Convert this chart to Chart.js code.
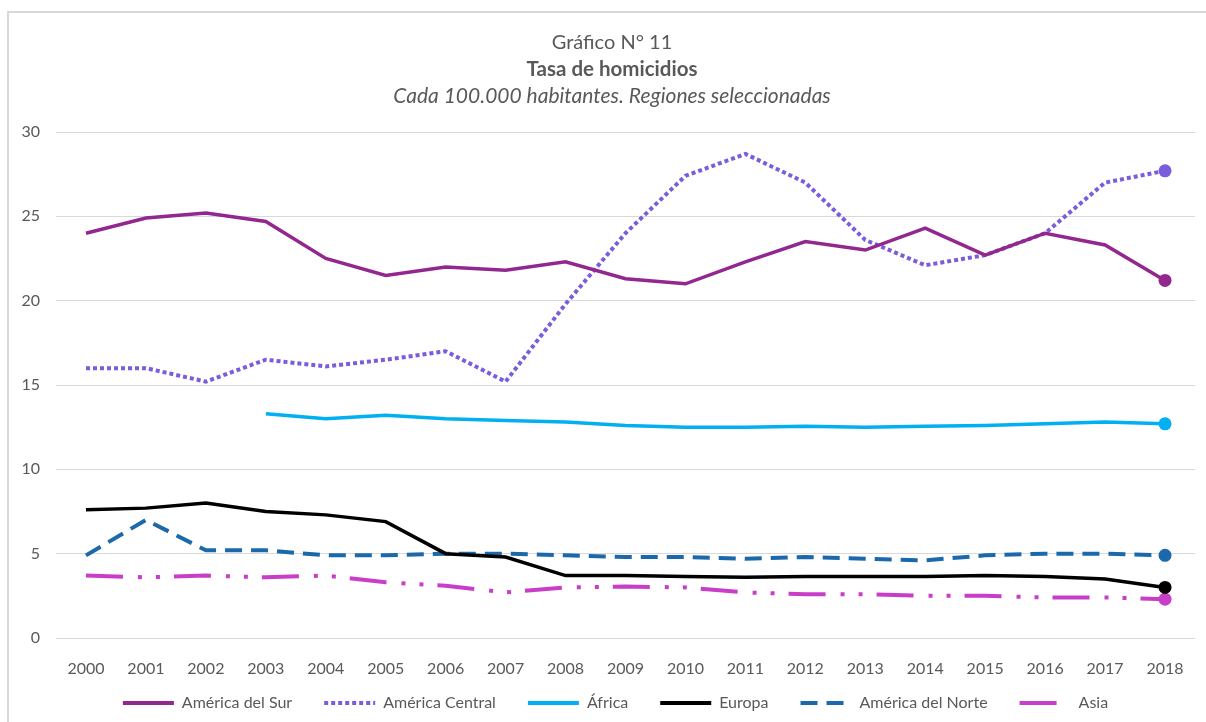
<!DOCTYPE html>
<html>
<head>
<meta charset="utf-8">
<script src="https://cdn.jsdelivr.net/npm/chart.js@4/dist/chart.umd.min.js"></script>
<style>
  html, body { margin: 0; padding: 0; background: #fff; }
  #wrap { width: 1206px; height: 722px; position: relative; }
</style>
</head>
<body>
<div id="wrap"><canvas id="homicidios" width="1206" height="722"></canvas></div>
<script>
// Datos
const years = ['2000', '2001', '2002', '2003', '2004', '2005', '2006', '2007', '2008', '2009',
               '2010', '2011', '2012', '2013', '2014', '2015', '2016', '2017', '2018'];
const americaSur = [24.0, 24.9, 25.2, 24.7, 22.5, 21.5, 22.0, 21.8, 22.3, 21.3, 21.0, 22.3, 23.5, 23.0, 24.3, 22.7, 24.0, 23.3, 21.2];
const americaCentral = [16.0, 16.0, 15.2, 16.5, 16.1, 16.5, 17.0, 15.2, 19.8, 24.0, 27.4, 28.7, 27.0, 23.6, 22.1, 22.7, 24.0, 27.0, 27.7];
const africa = [null, null, null, 13.3, 13.0, 13.2, 13.0, 12.9, 12.8, 12.6, 12.5, 12.5, 12.55, 12.5, 12.55, 12.6, 12.7, 12.8, 12.7];
const europa = [7.6, 7.7, 8.0, 7.5, 7.3, 6.9, 5.0, 4.8, 3.7, 3.7, 3.65, 3.6, 3.65, 3.65, 3.65, 3.7, 3.65, 3.5, 3.0];
const americaNorte = [4.9, 7.0, 5.2, 5.2, 4.9, 4.9, 5.0, 5.0, 4.9, 4.8, 4.8, 4.7, 4.8, 4.7, 4.6, 4.9, 5.0, 5.0, 4.9];
const asia = [3.7, 3.6, 3.7, 3.6, 3.7, 3.3, 3.1, 2.7, 3.0, 3.05, 3.0, 2.7, 2.6, 2.6, 2.5, 2.5, 2.4, 2.4, 2.3];
const yTicks = [0, 5, 10, 15, 20, 25, 30];

const titleLines = ['Gráfico N° 11', 'Tasa de homicidios', 'Cada 100.000 habitantes. Regiones seleccionadas'];

const FONT = 'Lato, "Open Sans", sans-serif';
const GRAY = '#595959';
const LEGEND_PAD = 32;

// only the last point gets a marker
function lastOnly(ctx) {
    return ctx.dataIndex === years.length - 1 ? 6.5 : 0;
}

function serie(label, data, color, dash, width) {
    return {
        label: label,
        data: data,
        borderColor: color,
        backgroundColor: color,
        borderWidth: width || 3.5,
        borderDash: dash,
        borderCapStyle: 'butt',
        pointRadius: lastOnly,
        pointHoverRadius: lastOnly,
        pointBorderWidth: 0,
        pointStyle: 'circle',
        tension: 0,
        spanGaps: false
    };
}

// frame, title lines and legend placement
const headerPlugin = {
    id: 'header',
    beforeLayout(chart) {
        // wide horizontal spacing in the legend without a tall legend box
        const lg = chart.legend;
        if (lg && !lg._shortFit) {
            const fit = lg.fit.bind(lg);
            lg.fit = function() { fit(); this.height = 42; };
            lg._shortFit = true;
        }
    },
    afterLayout(chart) {
        const lg = chart.legend;
        lg.top += 703 - (lg.top + LEGEND_PAD + 8);
        lg.bottom = chart.height;
        lg.height = lg.bottom - lg.top;
        lg.left += 36;
    },
    beforeDraw(chart) {
        const c = chart.ctx;
        c.save();
        c.fillStyle = '#fff';
        c.fillRect(0, 0, chart.width, chart.height);
        c.strokeStyle = '#d9d9d9';
        c.lineWidth = 2;
        c.beginPath();
        c.moveTo(8, chart.height);
        c.lineTo(8, 12);
        c.lineTo(chart.width, 12);
        c.stroke();
        c.restore();
    },
    afterDraw(chart) {
        const c = chart.ctx;
        const cx = 612;
        c.save();
        c.fillStyle = GRAY;
        c.textAlign = 'center';
        c.textBaseline = 'middle';
        c.font = '20px ' + FONT;
        c.fillText(titleLines[0], cx, 43);
        c.font = 'bold 20.5px ' + FONT;
        c.fillText(titleLines[1], cx, 69);
        c.font = 'italic 21px ' + FONT;
        c.fillText(titleLines[2], cx, 96);
        c.restore();
    }
};

const chart = new Chart(document.getElementById('homicidios'), {
    type: 'line',
    data: {
        labels: years,
        datasets: [
            serie('América del Sur', americaSur, '#92278f', []),
            serie('América Central', americaCentral, '#7a5cdc', [4, 3], 4),
            serie('África', africa, '#00b0f0', []),
            serie('Europa', europa, '#000000', []),
            serie('América del Norte', americaNorte, '#1b69aa', [17, 9], 4),
            serie('Asia', asia, '#c83ec8', [37, 15, 4, 14, 4, 14], 4)
        ]
    },
    options: {
        responsive: false,
        animation: false,
        layout: {
            padding: { top: 132, right: 11, left: 0, bottom: 0 }
        },
        scales: {
            x: {
                offset: true,
                grid: { display: false },
                border: { display: false },
                ticks: {
                    color: GRAY,
                    font: { family: FONT, size: 16 },
                    padding: 13,
                    maxRotation: 0,
                    autoSkip: false
                },
                afterFit(scale) { scale.height = 42; }
            },
            y: {
                min: 0,
                max: 30,
                afterBuildTicks(scale) {
                    scale.ticks = yTicks.map(v => ({ value: v }));
                },
                grid: { color: '#d9d9d9', lineWidth: 1, drawTicks: false },
                border: { display: false },
                ticks: {
                    color: GRAY,
                    font: { family: FONT, size: 16 },
                    padding: 16
                },
                afterFit(scale) { scale.width = 56; }
            }
        },
        plugins: {
            legend: {
                position: 'bottom',
                labels: {
                    usePointStyle: true,
                    pointStyleWidth: 51,
                    boxHeight: 16,
                    color: GRAY,
                    font: { family: FONT, size: 16 },
                    padding: LEGEND_PAD,
                    generateLabels(chart) {
                        return chart.data.datasets.map((ds, i) => ({
                            text: ds.label,
                            datasetIndex: i,
                            fillStyle: ds.borderColor,
                            strokeStyle: ds.borderColor,
                            lineWidth: 4,
                            lineDash: ds.borderDash,
                            lineCap: 'butt',
                            pointStyle: 'line',
                            fontColor: GRAY,
                            hidden: !chart.isDatasetVisible(i)
                        }));
                    }
                }
            },
            tooltip: { enabled: false }
        }
    },
    plugins: [headerPlugin]
});
</script>
</body>
</html>
